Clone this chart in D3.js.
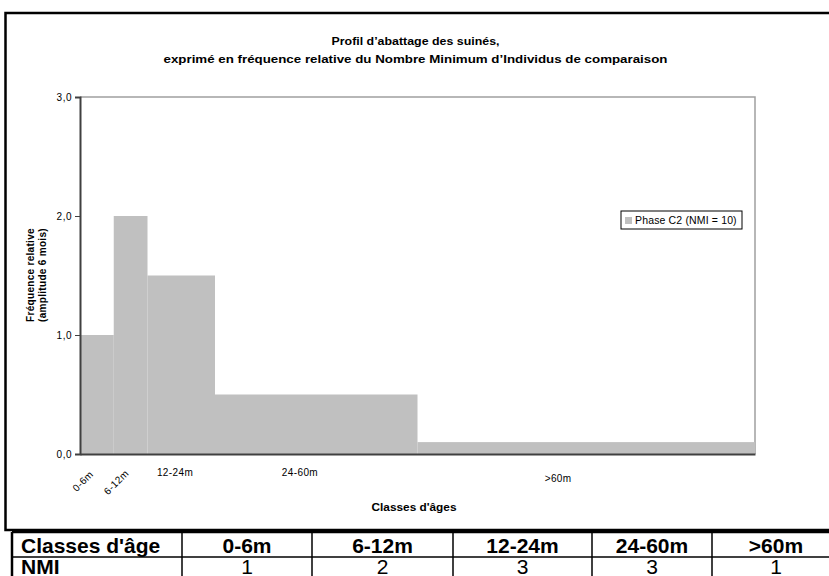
<!DOCTYPE html>
<html><head><meta charset="utf-8">
<script src="https://cdn.jsdelivr.net/npm/d3@7"></script>
<style>
html,body{margin:0;padding:0;background:#fff;}
svg{display:block;font-family:"Liberation Sans",Arial,sans-serif;}
</style></head>
<body>
<svg id="chart" width="829" height="576"></svg>
<script>
// ---- data ----
const categories = ["0-6m", "6-12m", "12-24m", "24-60m", ">60m"];
const classStartMonths = [0, 6, 12, 24, 60];
const classEndMonths = [6, 12, 24, 60, 120];
const relativeFrequency = [1.0, 2.0, 1.5, 0.5, 0.1];
const nmiValues = [1, 2, 3, 3, 1];
const yTickValues = [0, 1, 2, 3];
const seriesName = "Phase C2 (NMI = 10)";
const titleLines = ["Profil d\u2019abattage des suinés,",
  "exprimé en fréquence relative du Nombre Minimum d\u2019Individus de comparaison"];
const xAxisTitle = "Classes d'âges";
const yAxisTitle = ["Fréquence relative", "(amplitude 6 mois)"];
const tableHeader = "Classes d'âge";
const tableRowLabel = "NMI";

// ---- drawing ----
const svg = d3.select("#chart");
const plot = {left: 80, right: 755, top: 97, bottom: 454};
const x = d3.scaleLinear().domain([0, 120]).range([plot.left, plot.right]);
const y = d3.scaleLinear().domain([0, 3]).range([plot.bottom, plot.top]);

// outer frame
svg.append("rect").attr("x", 5.5).attr("y", 13).attr("width", 840).attr("height", 517)
  .attr("fill", "#fff").attr("stroke", "#000").attr("stroke-width", 2.5);

// title
svg.append("text").attr("x", 415.5).attr("y", 45).attr("text-anchor", "middle")
  .attr("font-size", 11.5).attr("font-weight", "bold")
  .attr("textLength", 168).attr("lengthAdjust", "spacingAndGlyphs").text(titleLines[0]);
svg.append("text").attr("x", 415.5).attr("y", 63).attr("text-anchor", "middle")
  .attr("font-size", 11.5).attr("font-weight", "bold")
  .attr("textLength", 504).attr("lengthAdjust", "spacingAndGlyphs").text(titleLines[1]);

// plot border (top/right)
svg.append("path")
  .attr("d", `M${plot.left},${plot.top}H${plot.right}V${plot.bottom}`)
  .attr("fill", "none").attr("stroke", "#a0a0a0").attr("stroke-width", 1.5);

// bars
svg.append("g").selectAll("rect").data(categories).join("rect")
  .attr("x", (d, i) => x(classStartMonths[i]))
  .attr("width", (d, i) => x(classEndMonths[i]) - x(classStartMonths[i]))
  .attr("y", (d, i) => y(relativeFrequency[i]))
  .attr("height", (d, i) => y(0) - y(relativeFrequency[i]))
  .attr("fill", "#c0c0c0");

// y axis
const yAxis = d3.axisLeft(y).tickValues(yTickValues).tickSize(5).tickPadding(3)
  .tickFormat(d => d3.format(".1f")(d).replace(".", ","));
const gy = svg.append("g").attr("transform", `translate(${plot.left},0)`).call(yAxis);
gy.select(".domain").attr("stroke", "#404040").attr("stroke-width", 2);
gy.selectAll(".tick line").attr("stroke", "#404040");
gy.selectAll("text").attr("font-size", 10).attr("fill", "#000").attr("letter-spacing", 0.5)
  .attr("font-family", "'Liberation Sans',Arial,sans-serif");

// x axis line
const gx = svg.append("g").attr("transform", `translate(0,${plot.bottom})`)
  .call(d3.axisBottom(x).tickValues([]).tickSizeOuter(0));
gx.select(".domain").attr("stroke", "#404040").attr("stroke-width", 2);

// x category labels (Excel-style placement)
const labelLayout = [
  {m: 1.6, dy: 16, rot: true},
  {m: 7.9, dy: 15, rot: true},
  {m: 16.9, dy: 22, rot: false},
  {m: 39.1, dy: 22, rot: false},
  {m: 85.0, dy: 28, rot: false}
];
svg.append("g").selectAll("text").data(categories).join("text")
  .attr("transform", (d, i) => `translate(${x(labelLayout[i].m)},${plot.bottom + labelLayout[i].dy})` +
     (labelLayout[i].rot ? " rotate(-45)" : ""))
  .attr("text-anchor", (d, i) => labelLayout[i].rot ? "end" : "middle")
  .attr("dy", (d, i) => labelLayout[i].rot ? "0.7em" : 0)
  .attr("font-size", 10).attr("letter-spacing", 0.4).text(d => d);

// axis titles
svg.append("text").attr("x", 414).attr("y", 511).attr("text-anchor", "middle")
  .attr("font-size", 10).attr("font-weight", "bold")
  .attr("textLength", 85).attr("lengthAdjust", "spacingAndGlyphs").text(xAxisTitle);
svg.append("g").attr("transform", "translate(34,275) rotate(-90)")
  .selectAll("text").data(yAxisTitle).join("text")
  .attr("x", 0).attr("y", (d, i) => i * 11.5).attr("text-anchor", "middle")
  .attr("font-size", 10).attr("font-weight", "bold").attr("letter-spacing", 0.3).text(d => d);

// legend
const lg = svg.append("g").attr("transform", "translate(621,211)");
lg.append("rect").attr("x", 0).attr("y", 0).attr("width", 121).attr("height", 18)
  .attr("fill", "#fff").attr("stroke", "#000").attr("stroke-width", 1);
lg.append("rect").attr("x", 4).attr("y", 6).attr("width", 7).attr("height", 7).attr("fill", "#c0c0c0");
lg.append("text").attr("x", 14).attr("y", 13).attr("font-size", 10.5).attr("letter-spacing", 0.15).text(seriesName);

// table
const colEdges = [12, 182, 312, 453, 592, 712, 840];
const tTop = 532, tMid = 557, tBot = 582;
const tg = svg.append("g");
tg.append("rect").attr("x", 0).attr("y", tTop).attr("width", 829).attr("height", 50).attr("fill", "#fff");
tg.append("line").attr("x1", colEdges[0]).attr("x2", 829).attr("y1", tTop).attr("y2", tTop)
  .attr("stroke", "#000").attr("stroke-width", 2.5);
tg.append("line").attr("x1", colEdges[0]).attr("x2", 829).attr("y1", tMid).attr("y2", tMid)
  .attr("stroke", "#000").attr("stroke-width", 1.5);
tg.selectAll("line.v").data(colEdges).join("line").attr("class", "v")
  .attr("x1", d => d).attr("x2", d => d).attr("y1", tTop).attr("y2", tBot)
  .attr("stroke", "#000").attr("stroke-width", (d, i) => i === 0 ? 2.5 : 1.5);
tg.append("text").attr("x", 21).attr("y", 553).attr("font-size", 21).attr("font-weight", "bold").text(tableHeader);
tg.append("text").attr("x", 21).attr("y", 574).attr("font-size", 21).attr("font-weight", "bold").text(tableRowLabel);
tg.selectAll("text.h").data(categories).join("text").attr("class", "h")
  .attr("x", (d, i) => (colEdges[i + 1] + colEdges[i + 2]) / 2).attr("y", 553)
  .attr("text-anchor", "middle").attr("font-size", 21).attr("font-weight", "bold").text(d => d);
tg.selectAll("text.n").data(nmiValues).join("text").attr("class", "n")
  .attr("x", (d, i) => (colEdges[i + 1] + colEdges[i + 2]) / 2).attr("y", 574)
  .attr("text-anchor", "middle").attr("font-size", 21).text(d => d);
</script>
</body></html>
